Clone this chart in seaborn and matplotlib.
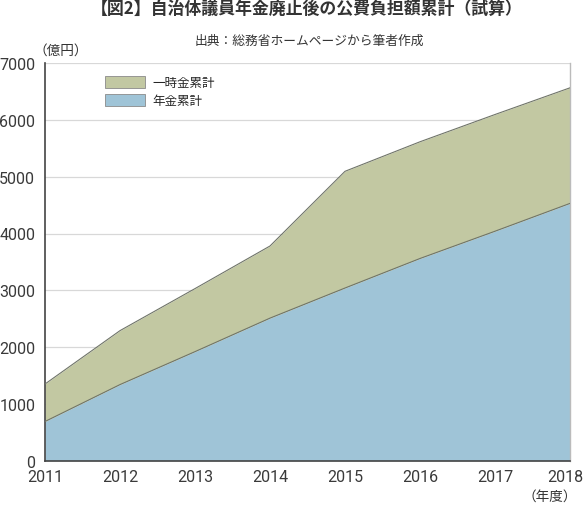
import matplotlib
matplotlib.use("Agg")
import matplotlib.pyplot as plt
import matplotlib.transforms as mtransforms
import seaborn as sns
import pandas as pd
from matplotlib.patches import Patch

years = [2011, 2012, 2013, 2014, 2015, 2016, 2017, 2018]
pension_cum = [690, 1340, 1920, 2510, 3040, 3560, 4040, 4530]
lumpsum_total_cum = [1350, 2290, 3030, 3780, 5095, 5615, 6095, 6565]
lumpsum_cum = [t - p for t, p in zip(lumpsum_total_cum, pension_cum)]
series_labels = ["一時金累計", "年金累計"]
yticks = [0, 1000, 2000, 3000, 4000, 5000, 6000, 7000]

df = pd.DataFrame({"year": years, "pension": pension_cum, "total": lumpsum_total_cum})

sns.set_style("white")
plt.rcParams['font.family'] = ['Roboto', 'Noto Sans CJK JP', 'DejaVu Sans']

GREEN = "#c2c8a2"
BLUE = "#9fc4d7"
EDGE = "#6f7468"
TXT = "#3a3a3a"

W, H = 585, 506
x0, x1, y0, y1 = 45, 570, 461.7, 64.1
fig = plt.figure(figsize=(5.85, 5.06), dpi=100)
ax = fig.add_axes([x0/W, 1-y0/H, (x1-x0)/W, (y0-y1)/H])

ax.stackplot(df["year"], df["pension"], lumpsum_cum,
             colors=[BLUE, GREEN], linewidth=0, zorder=2)
sns.lineplot(data=df, x="year", y="pension", ax=ax, color=EDGE, linewidth=0.8, zorder=3)
sns.lineplot(data=df, x="year", y="total", ax=ax, color=EDGE, linewidth=0.8, zorder=3)

ax.set_xlim(2011, 2018)
ax.set_ylim(0, 7000)
ax.set_yticks(yticks)
ax.set_xticks(years)
ax.set_yticklabels([str(v) for v in yticks], fontsize=11.5, color=TXT)
ax.set_xticklabels([str(v) for v in years], fontsize=11.5, color=TXT)
ax.yaxis.grid(True, color="#d8d8d8", linewidth=0.9, zorder=0)
ax.set_axisbelow(True)
ax.set_xlabel("")
ax.set_ylabel("")
ax.tick_params(axis="x", direction="in", length=5, width=1, color="#444444", pad=6)
ax.tick_params(axis="y", length=0, pad=7)
ax.spines["top"].set_visible(False)
ax.spines["right"].set_color("#bbbbbb")
ax.spines["right"].set_linewidth(1)
ax.spines["left"].set_color("#444444")
ax.spines["bottom"].set_color("#444444")
ax.spines["left"].set_linewidth(1.2)
ax.spines["bottom"].set_linewidth(1.2)

last = ax.get_xticklabels()[-1]
last.set_transform(last.get_transform() +
                   mtransforms.ScaledTranslation(-5/100, 0, fig.dpi_scale_trans))

handles = [Patch(facecolor=GREEN, edgecolor="#8a8a8a", linewidth=0.6),
           Patch(facecolor=BLUE, edgecolor="#8a8a8a", linewidth=0.6)]
ax.legend(handles, series_labels, loc="upper left",
          bbox_to_anchor=((105-x0)/(x1-x0), (y0-77)/(y0-y1)),
          frameon=False, borderpad=0, borderaxespad=0,
          handlelength=3.2, handleheight=1.15,
          handletextpad=0.6, labelspacing=0.33,
          prop={"family": "Noto Sans CJK JP", "size": 9})

fig.text(306.5/W, 1-10/H, "【図2】自治体議員年金廃止後の公費負担額累計（試算）",
         ha="center", va="center", fontsize=12.2, fontweight="bold",
         family="Noto Sans CJK JP", color="#333333")
fig.text(309/W, 1-41/H, "出典：総務省ホームページから筆者作成",
         ha="center", va="center", fontsize=9.2, family="Noto Sans CJK JP", color="#333333")
fig.text(61/W, 1-51/H, "（億円）", ha="center", va="center", fontsize=9.8,
         family="Noto Sans CJK JP", color="#333333")
fig.text(550/W, 1-497/H, "（年度）", ha="center", va="center", fontsize=9.8,
         family="Noto Sans CJK JP", color="#333333")

fig.savefig("out.png", dpi=100, facecolor="white")
